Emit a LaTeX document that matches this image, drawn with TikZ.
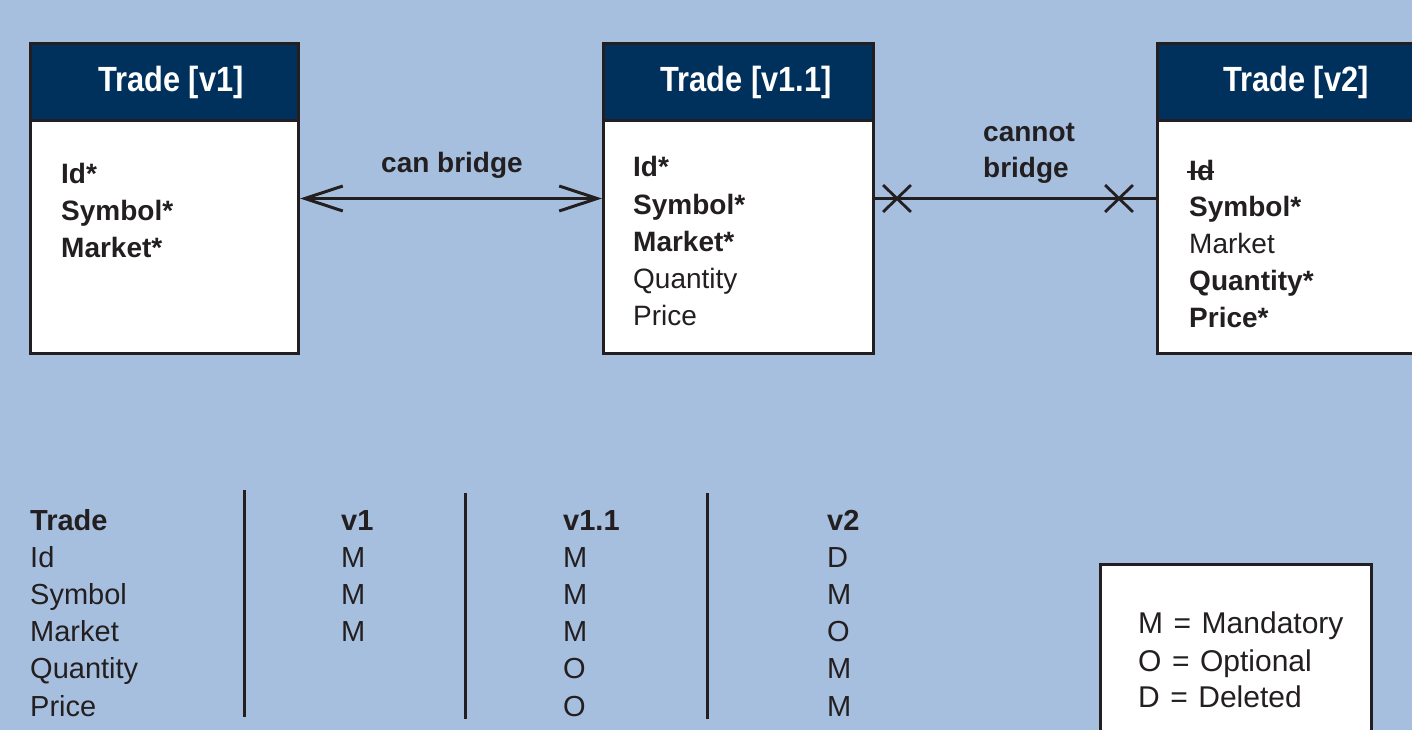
\documentclass[tikz,border=0pt]{standalone}
\usepackage{fontspec}
\setmainfont{Liberation Sans}
\newfontfamily\headfont{Liberation Sans}[FakeStretch=0.88]
\usetikzlibrary{arrows.meta,shapes.misc,calc}
\definecolor{bgblue}{HTML}{A7BFDF}
\definecolor{navy}{HTML}{00315C}
\definecolor{inkc}{HTML}{231F20}
\tikzset{chev/.tip={Straight Barb[length=38pt,width=25pt,line width=3pt]}}
\begin{document}
\begin{tikzpicture}[x=1pt,y=-1pt,
  entity/.style={draw=inkc, line width=3pt, fill=white, anchor=north west, inner sep=0pt},
  header/.style={draw=inkc, line width=3pt, fill=navy, anchor=north west, inner sep=0pt, minimum height=77pt},
  title/.style={font=\headfont\bfseries\fontsize{35}{40}\selectfont, text=white, anchor=base, inner sep=0pt},
  field/.style={font=\fontsize{28}{32}\selectfont, text=inkc, anchor=base west, inner sep=0pt},
  cell/.style={font=\fontsize{29}{33}\selectfont, text=inkc, anchor=base west, inner sep=0pt},
  legendtext/.style={font=\fontsize{30}{34}\selectfont, text=inkc, anchor=base west, inner sep=0pt},
  linklabel/.style={font=\bfseries\fontsize{28}{32}\selectfont, text=inkc, inner sep=0pt},
  link/.style={draw=inkc, line width=2.8pt},
  crossmark/.style={cross out, draw=inkc, line width=2.8pt, minimum width=25pt, minimum height=24pt, inner sep=0pt},
  rule/.style={draw=inkc, line width=3pt}
]
\useasboundingbox (0,0) rectangle (1412,730);
\begin{scope}
\clip (0,0) rectangle (1412,730);
\fill[bgblue] (0,0) rectangle (1412,730);

% entity boxes
\node[entity, minimum width=268pt, minimum height=310pt] (b1) at (29,42) {};
\node[header, minimum width=268pt] (h1) at (29,42) {};
\node[title] (t1) at (171,92) {Trade [v1]};

\node[entity, minimum width=270pt, minimum height=310pt] (b2) at (602,42) {};
\node[header, minimum width=270pt] (h2) at (602,42) {};
\node[title] (t2) at (746,92) {Trade [v1.1]};

\node[entity, minimum width=300pt, minimum height=310pt] (b3) at (1156,42) {};
\node[header, minimum width=300pt] (h3) at (1156,42) {};
\node[title] (t3) at (1296,92) {Trade [v2]};

% fields of v1
\foreach \t [count=\i] in {\textbf{Id*},\textbf{Symbol*},\textbf{Market*}}
  \node[field] (fa\i) at (61,{183+37*(\i-1)}) {\t};

% fields of v1.1
\foreach \t [count=\i] in {\textbf{Id*},\textbf{Symbol*},\textbf{Market*},Quantity,Price}
  \node[field] (fb\i) at (633,{177+37.2*(\i-1)}) {\t};

% fields of v2
\foreach \t [count=\i] in {\textbf{Id},\textbf{Symbol*},Market,\textbf{Quantity*},\textbf{Price*}}
  \node[field] (fc\i) at (1189,{180+36.8*(\i-1)}) {\t};
\draw[inkc, line width=2.2pt] ($(fc1.base west)+(-2,-8)$) -- ($(fc1.base east)+(0,-8)$);

% connectors
\draw[link, chev-chev] (b1.east) -- (b2.west);
\node[linklabel, anchor=base] (l1) at (452,172) {can bridge};

\draw[link] (b2.east) -- (b3.west);
\node[crossmark] (x1) at ([xshift=22pt]b2.east) {};
\node[crossmark] (x2) at ([xshift=-37pt]b3.west) {};
\node[linklabel, anchor=base west] (l2a) at (983,142) {cannot};
\node[linklabel, anchor=base west] (l2b) at (983,178) {bridge};

% table
\draw[rule] (244,490) -- (244,717);
\draw[rule] (465,493) -- (465,719);
\draw[rule] (707,493) -- (707,719);
\foreach \t [count=\i] in {\textbf{Trade},Id,Symbol,Market,Quantity,Price}
  \node[cell] (r\i) at (30,{530+37.2*(\i-1)}) {\t};
\foreach \t [count=\i] in {\textbf{v1},M,M,M}
  \node[cell] (ca\i) at (341,{530+37.2*(\i-1)}) {\t};
\foreach \t [count=\i] in {\textbf{v1.1},M,M,M,O,O}
  \node[cell] (cb\i) at (563,{530+37.2*(\i-1)}) {\t};
\foreach \t [count=\i] in {\textbf{v2},D,M,O,M,M}
  \node[cell] (cc\i) at (827,{530+37.2*(\i-1)}) {\t};

% legend
\node[entity, minimum width=271pt, minimum height=200pt] (legend) at (1099,563) {};
\node[legendtext] (m1) at (1138,633) {M\hspace{0.35em}=\hspace{0.35em}Mandatory};
\node[legendtext] (m2) at (1138,671) {O\hspace{0.35em}=\hspace{0.35em}Optional};
\node[legendtext] (m3) at (1138,707) {D\hspace{0.35em}=\hspace{0.35em}Deleted};
\end{scope}
\end{tikzpicture}
\end{document}
